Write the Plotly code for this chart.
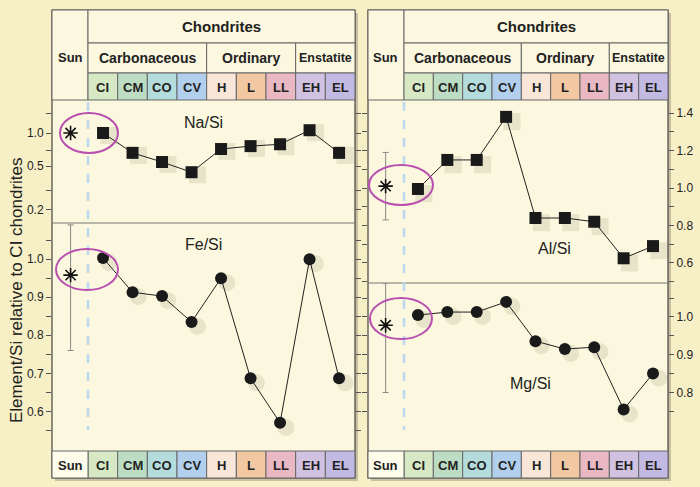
import plotly.graph_objects as go

classes = ["CI", "CM", "CO", "CV", "H", "L", "LL", "EH", "EL"]
class_colors = ["#d6e8c4", "#bcdcc4", "#b4dcdc", "#b2d0ee", "#f8e6d8", "#f2c8a2", "#eab8c2", "#d2c2e2", "#c2bae2"]
groups = [("Carbonaceous", 0, 4), ("Ordinary", 4, 7), ("Enstatite", 7, 9)]

na_si = [1.0, 0.66, 0.545, 0.44, 0.715, 0.76, 0.79, 1.06, 0.66]
fe_si = [1.003, 0.913, 0.903, 0.835, 0.95, 0.687, 0.57, 1.0, 0.687]
al_si = [0.995, 1.15, 1.15, 1.38, 0.84, 0.84, 0.82, 0.625, 0.69]
mg_si = [1.005, 1.013, 1.013, 1.04, 0.936, 0.915, 0.92, 0.755, 0.85]
sun_na = [1.0]
sun_fe = [0.958]; sun_fe_err = [0.132, 0.198]  # plus, minus
sun_al = [1.01]; sun_al_err = [0.18, 0.18]
sun_mg = [0.978]; sun_mg_err = [0.112, 0.178]

W, H = 700, 487
def px(x): return x / W
def py(y): return 1 - y / H

xpos = list(range(1, 10))
SUNX = -0.1
FONT = "Liberation Sans, Arial"

fig = go.Figure()
shapes, annos = [], []

def rect(x0, y0, x1, y1, fill, line="#666", lw=1):
    shapes.append(dict(type="rect", xref="paper", yref="paper", x0=px(x0), x1=px(x1), y0=py(y1), y1=py(y0),
                       fillcolor=fill, line=dict(color=line, width=lw), layer="below"))

def text(x, y, t, size=13, bold=True, color="#222", angle=0):
    annos.append(dict(x=px(x), y=py(y), xref="paper", yref="paper", text=("<b>%s</b>" % t) if bold else t,
                      xanchor="center", yanchor="middle", textangle=angle,
                      showarrow=False, font=dict(size=size, color=color, family=FONT)))

rect(0, 0, 700, 487, "#f7efc6", line="#f7efc6", lw=0)

panels = [dict(x0=52, x1=355, split=223), dict(x0=368, x1=668, split=283)]
for p in panels:
    x0, x1 = p["x0"], p["x1"]
    sunw = 36
    cw = (x1 - x0 - sunw) / 9
    rect(x0 + 3, 13, x1 + 3, 481, "#c8c0a0", line="#c8c0a0", lw=0)
    rect(x0, 10, x1, 478, "#fbf8df", line="#444", lw=1.2)
    rect(x0, 10, x0 + sunw, 100, "#fbf8df")
    text(x0 + sunw / 2, 58, "Sun", size=13)
    rect(x0 + sunw, 10, x1, 43, "#fbf8df")
    text((x0 + sunw + x1) / 2, 27, "Chondrites", size=15)
    for name, a, b in groups:
        gx0 = x0 + sunw + a * cw; gx1 = x0 + sunw + b * cw
        rect(gx0, 43, gx1, 73, "#fbf8df")
        text((gx0 + gx1) / 2, 58, name, size=14 if name != "Enstatite" else 12.5)
    for i, (c, col) in enumerate(zip(classes, class_colors)):
        cx0 = x0 + sunw + i * cw
        rect(cx0, 73, cx0 + cw, 100, col)
        text(cx0 + cw / 2, 87, c, size=13)
        rect(cx0, 451, cx0 + cw, 478, col)
        text(cx0 + cw / 2, 465, c, size=13)
    rect(x0, 451, x0 + sunw, 478, "#fdfbea")
    text(x0 + sunw / 2, 465, "Sun", size=13)
    shapes.append(dict(type="line", xref="paper", yref="paper", x0=px(x0), x1=px(x1), y0=py(p["split"]), y1=py(p["split"]),
                       line=dict(color="#777", width=1)))
    shapes.append(dict(type="line", xref="paper", yref="paper", x0=px(x0 + sunw), x1=px(x0 + sunw), y0=py(102), y1=py(430),
                       line=dict(color="#bcd8f0", width=2.5, dash="dash")))

for (a, b, c, d) in [(60, 113, 118, 153), (56, 249, 118, 290), (369, 165, 433, 205), (370, 298, 432, 339)]:
    shapes.append(dict(type="circle", xref="paper", yref="paper", x0=px(a), x1=px(c), y0=py(d), y1=py(b),
                       line=dict(color="#b84fb0", width=2)))

text(16, 290, "Element/Si relative to CI chondrites", size=17, bold=False, angle=-90)

dom = {
    1: ([px(52), px(355)], [py(223), py(100)], [-0.73, 9.54]),
    2: ([px(52), px(355)], [py(451), py(223)], [-0.73, 9.54]),
    3: ([px(368), px(668)], [py(283), py(100)], [-0.70, 9.51]),
    4: ([px(368), px(668)], [py(451), py(283)], [-0.70, 9.51]),
}
layout = {}
for k, (xd, yd, xr) in dom.items():
    s = "" if k == 1 else str(k)
    layout["xaxis" + s] = dict(domain=xd, range=xr, visible=False, anchor="y" + s)
    layout["yaxis" + s] = dict(domain=yd, anchor="x" + s, showgrid=False, zeroline=False, ticks="outside",
                               ticklen=5, tickcolor="#555", mirror="ticks", showline=False, automargin=False,
                               tickfont=dict(size=12, color="#222", family=FONT),
                               side="left" if k <= 2 else "right")

layout["yaxis"].update(type="log", range=[-0.818, 0.30], tickvals=[0.15, 0.2, 0.3, 0.5, 0.7, 1.0, 1.5],
                       ticktext=["", "0.2", "", "0.5", "", "1.0", ""])
layout["yaxis2"].update(range=[0.496, 1.095], tickvals=[0.55, 0.6, 0.65, 0.7, 0.75, 0.8, 0.85, 0.9, 0.95, 1.0, 1.05],
                        ticktext=["", "0.6", "", "0.7", "", "0.8", "", "0.9", "", "1.0", ""])
layout["yaxis3"].update(range=[0.493, 1.47], tickvals=[0.5, 0.6, 0.7, 0.8, 0.9, 1.0, 1.1, 1.2, 1.3, 1.4],
                        ticktext=["", "0.6", "", "0.8", "", "1.0", "", "1.2", "", "1.4"])
layout["yaxis4"].update(range=[0.645, 1.09], tickvals=[0.75, 0.8, 0.85, 0.9, 0.95, 1.0, 1.05],
                        ticktext=["", "0.8", "", "0.9", "", "1.0", ""])

series = [(na_si, "square", "x", "y"), (fe_si, "circle", "x2", "y2"), (al_si, "square", "x3", "y3"), (mg_si, "circle", "x4", "y4")]
for vals, sym, xa, ya in series:
    if ya == "y":
        sh = [v * 0.95 for v in vals]
    elif ya == "y3":
        sh = [v - 0.025 for v in vals]
    else:
        sh = [v - 0.012 for v in vals]
    fig.add_trace(go.Scatter(x=[x + 0.2 for x in xpos], y=sh, mode="markers", xaxis=xa, yaxis=ya, hoverinfo="skip",
                             marker=dict(symbol=sym, size=17, color="rgba(70,70,40,0.11)", line=dict(width=0))))
    fig.add_trace(go.Scatter(x=xpos, y=vals, mode="lines+markers", xaxis=xa, yaxis=ya,
                             line=dict(color="#222", width=1),
                             marker=dict(symbol=sym, size=12, color="#1a1a1a")))

suns = [(sun_na, None, "x", "y"), (sun_fe, sun_fe_err, "x2", "y2"), (sun_al, sun_al_err, "x3", "y3"), (sun_mg, sun_mg_err, "x4", "y4")]
for v, err, xa, ya in suns:
    ey = dict(type="data", array=[err[0]], arrayminus=[err[1]], color="#888", width=3, thickness=1) if err else None
    fig.add_trace(go.Scatter(x=[SUNX], y=v, mode="markers", xaxis=xa, yaxis=ya, error_y=ey,
                             marker=dict(symbol="asterisk-open", size=12, color="#111", line=dict(width=1.6, color="#111"))))

for t, x, y in [("Na/Si", 203, 122), ("Fe/Si", 203, 245), ("Al/Si", 554, 248), ("Mg/Si", 530, 383)]:
    text(x, y, t, size=16, bold=False)

fig.update_layout(width=W, height=H, margin=dict(l=0, r=0, t=0, b=0), showlegend=False,
                  paper_bgcolor="#f7efc6", plot_bgcolor="rgba(0,0,0,0)", shapes=shapes, annotations=annos, **layout)
fig.write_html("out.html", config={"displayModeBar": False},
               post_script="document.body.style.margin='0';document.body.style.overflow='hidden';")
